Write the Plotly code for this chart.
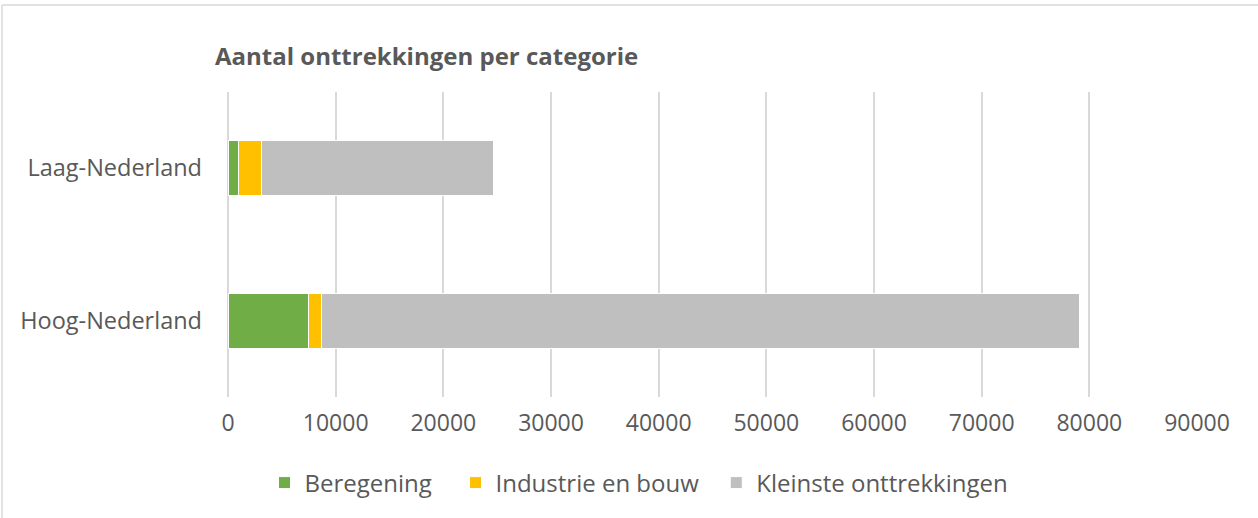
import plotly.graph_objects as go

categories = ["Hoog-Nederland", "Laag-Nederland"]
series_names = ["Beregening", "Industrie en bouw", "Kleinste onttrekkingen"]
beregening = [7450, 1000]
industrie = [1200, 2100]
kleinste = [70450, 21600]
tick_vals = [0, 10000, 20000, 30000, 40000, 50000, 60000, 70000, 80000, 90000]
colors = ["#70AD47", "#FFC000", "#BFBFBF"]
legend_pads = [3, 2, 0]

FONT = "Open Sans"
TXT = "#595959"

fig = go.Figure()
for name, vals, col, pad in zip(series_names, [beregening, industrie, kleinste], colors, legend_pads):
    fig.add_trace(go.Bar(
        y=categories, x=vals, name=name + "\u00a0" * pad, orientation="h",
        marker=dict(color=col, line=dict(color="white", width=1)),
    ))

W, H = 1258, 518
L, R, T, B = 228, 61, 92, 121
pw, ph = W - L - R, H - T - B

fig.update_layout(
    width=W, height=H, barmode="stack", bargap=0.64,
    margin=dict(l=L, r=R, t=T, b=B, autoexpand=False),
    paper_bgcolor="white", plot_bgcolor="white",
    font=dict(family=FONT, color=TXT, size=23),
    title=dict(text="<b>Aantal onttrekkingen per categorie</b>",
               x=215 / W, xanchor="left", xref="container",
               y=1 - 57 / H, yanchor="middle", yref="container",
               font=dict(family=FONT, size=24, color=TXT)),
    xaxis=dict(range=[0, 90000], tickvals=tick_vals,
               ticktext=[str(v) for v in tick_vals],
               showgrid=True, gridcolor="#D9D9D9", gridwidth=1.5,
               zeroline=True, zerolinecolor="#D9D9D9", zerolinewidth=1.5,
               showline=False, ticks="", ticklabelstandoff=10,
               tickfont=dict(size=23, color=TXT)),
    yaxis=dict(showgrid=False, showline=False, ticks="", ticklabelstandoff=25,
               tickfont=dict(size=23.5, color=TXT)),
    legend=dict(orientation="h", x=639 / W, xanchor="center", xref="container",
                y=1 - 483 / H, yanchor="middle", yref="container",
                font=dict(size=24, color=TXT), itemwidth=30,
                traceorder="normal"),
    showlegend=True,
)

# outer chart border (top and left visible)
x0 = (2 - L) / pw
y_top = (H - B - 5) / ph
fig.add_shape(type="line", xref="paper", yref="paper",
              x0=x0, x1=3, y0=y_top, y1=y_top,
              line=dict(color="#D9D9D9", width=1.5))
fig.add_shape(type="line", xref="paper", yref="paper",
              x0=x0, x1=x0, y0=y_top, y1=-3,
              line=dict(color="#D9D9D9", width=1.5))

fig.write_html("out.html", config={"displayModeBar": False},
               post_script="document.body.style.margin='0';document.body.style.overflow='hidden';")
